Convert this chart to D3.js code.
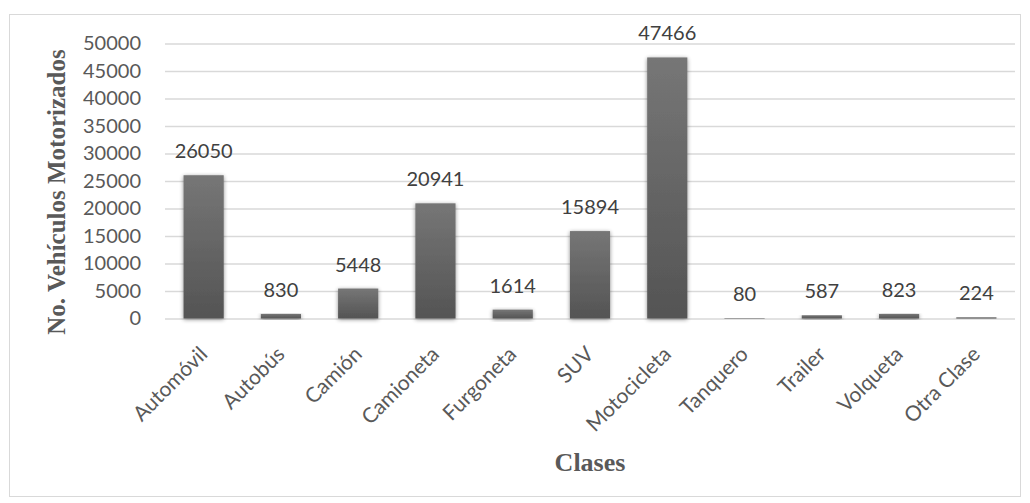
<!DOCTYPE html>
<html>
<head>
<meta charset="utf-8">
<script src="https://cdn.jsdelivr.net/npm/d3@7"></script>
<style>
  html, body { margin: 0; padding: 0; background: #fff; }
  svg { display: block; }
</style>
</head>
<body>
<svg id="chart" width="1030" height="503"></svg>
<script>
// Vehicle counts per class
const categories = ["Automóvil", "Autobús", "Camión", "Camioneta", "Furgoneta", "SUV",
                    "Motocicleta", "Tanquero", "Trailer", "Volqueta", "Otra Clase"];
const values = [26050, 830, 5448, 20941, 1614, 15894, 47466, 80, 587, 823, 224];
const yTicks = [0, 5000, 10000, 15000, 20000, 25000, 30000, 35000, 40000, 45000, 50000];
const yTitle = "No. Vehículos Motorizados";
const xTitle = "Clases";

const svg = d3.select("#chart");
const plot = { left: 165, right: 1015, top: 43.5, bottom: 318.5 };

const x = d3.scaleBand().domain(categories).range([plot.left, plot.right]).paddingInner(0.48).paddingOuter(0.24);
const y = d3.scaleLinear().domain([0, 50000]).range([plot.bottom, plot.top]);

const defs = svg.append("defs");
const grad = defs.append("linearGradient").attr("id", "barFill")
  .attr("x1", 0).attr("y1", 0).attr("x2", 0).attr("y2", 1);
grad.append("stop").attr("offset", "0%").attr("stop-color", "#767676");
grad.append("stop").attr("offset", "100%").attr("stop-color", "#545454");

const shadow = defs.append("filter").attr("id", "barShadow")
  .attr("x", "-30%").attr("y", "-30%").attr("width", "160%").attr("height", "160%");
shadow.append("feGaussianBlur").attr("in", "SourceAlpha").attr("stdDeviation", 2.2).attr("result", "blur");
shadow.append("feOffset").attr("in", "blur").attr("dx", 0).attr("dy", 1).attr("result", "off");
shadow.append("feComponentTransfer").attr("in", "off").attr("result", "soft")
  .append("feFuncA").attr("type", "linear").attr("slope", 0.45);
const merge = shadow.append("feMerge");
merge.append("feMergeNode").attr("in", "soft");
merge.append("feMergeNode").attr("in", "SourceGraphic");

// Outer frame
svg.append("rect").attr("x", 9.5).attr("y", 14.5).attr("width", 1011).attr("height", 482)
  .attr("fill", "#fff").attr("stroke", "#d9d9d9").attr("stroke-width", 1);

// Gridlines + y tick labels
const yAxis = d3.axisLeft(y).tickValues(yTicks).tickSize(-(plot.right - plot.left)).tickPadding(24).tickFormat(d3.format("d"));
const gy = svg.append("g").attr("transform", `translate(${plot.left},0)`).call(yAxis);
gy.select(".domain").remove();
gy.selectAll(".tick line").attr("stroke", "#d9d9d9").attr("stroke-width", 1.6);
gy.selectAll(".tick text")
  .attr("fill", "#595959").attr("font-family", "Lato, 'Open Sans', sans-serif").attr("font-size", 20);

// Bars
svg.append("g").selectAll("rect").data(values).join("rect")
  .attr("x", (d, i) => x(categories[i]))
  .attr("y", d => y(d))
  .attr("width", x.bandwidth())
  .attr("height", d => y(0) - y(d))
  .attr("fill", "url(#barFill)")
  .attr("filter", "url(#barShadow)");

// Value labels
svg.append("g").selectAll("text").data(values).join("text")
  .attr("x", (d, i) => x(categories[i]) + x.bandwidth() / 2)
  .attr("y", d => y(d) - 17)
  .attr("text-anchor", "middle")
  .attr("fill", "#404040")
  .attr("font-family", "Lato, 'Open Sans', sans-serif")
  .attr("font-size", 20)
  .text(d => d);

// Category labels, rotated
const xAxis = d3.axisBottom(x).tickSize(0).tickPadding(0);
const gx = svg.append("g").attr("transform", `translate(0,${plot.bottom})`).call(xAxis);
gx.select(".domain").remove();
gx.selectAll(".tick text")
  .attr("fill", "#595959").attr("font-family", "Lato, 'Open Sans', sans-serif").attr("font-size", 21)
  .attr("text-anchor", "end")
  .attr("dy", "0")
  .attr("transform", "translate(5,37) rotate(-45)");

// Axis titles
svg.append("text")
  .attr("transform", `translate(65,192) rotate(-90)`)
  .attr("text-anchor", "middle")
  .attr("fill", "#595959")
  .attr("font-family", "'Liberation Serif', 'Times New Roman', serif")
  .attr("font-weight", "bold")
  .attr("font-size", 25)
  .text(yTitle);

svg.append("text")
  .attr("x", 590)
  .attr("y", 471)
  .attr("text-anchor", "middle")
  .attr("fill", "#595959")
  .attr("font-family", "'Liberation Serif', 'Times New Roman', serif")
  .attr("font-weight", "bold")
  .attr("font-size", 26)
  .text(xTitle);
</script>
</body>
</html>
